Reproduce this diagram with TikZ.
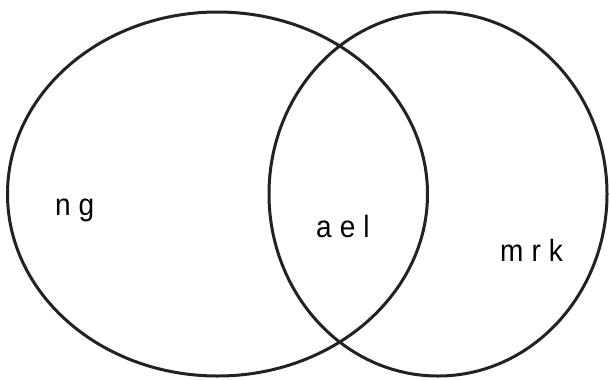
\documentclass[tikz,border=0pt]{standalone}
\usepackage{fontspec}
\setmainfont{Liberation Sans}
\definecolor{strk}{HTML}{222222}
\tikzset{
  setline/.style={draw=strk, line width=3bp},
  lbl/.style={anchor=base west, inner sep=0pt, font=\fontsize{28bp}{32bp}\selectfont, text=black}
}
\newcommand{\gp}{\hspace{8bp}}
\newcommand{\tallt}[1]{\scalebox{1}[1.1]{#1}}
\begin{document}
\begin{tikzpicture}[x=1bp,y=-1bp]
\useasboundingbox (0,0) rectangle (610,379);
\draw[setline] (217.5,194) ellipse [x radius=210, y radius=182];
\draw[setline] (438,194) ellipse [x radius=169, y radius=182];
\node[lbl] (ng) at (55,215) {\tallt{n\gp g}};
\node[lbl] (ael) at (316,237) {\tallt{a\gp e\gp l}};
\node[lbl] (mrk) at (500,261) {\tallt{m\gp r\gp k}};
\end{tikzpicture}
\end{document}
